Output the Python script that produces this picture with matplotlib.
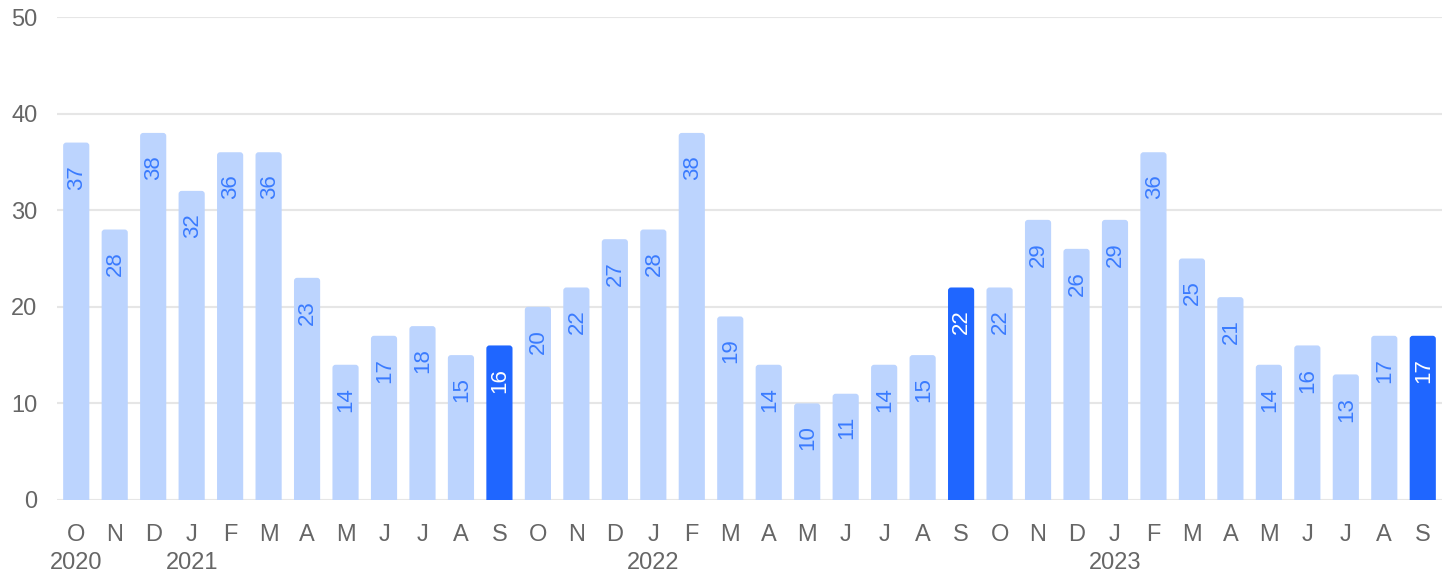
import numpy as np
import matplotlib.pyplot as plt
from matplotlib.patches import FancyBboxPatch

plt.rcParams['font.family'] = ['Liberation Sans', 'DejaVu Sans']

# datos: conteo mensual, oct 2020 - sep 2023
meses = ['O', 'N', 'D', 'J', 'F', 'M', 'A', 'M', 'J', 'J', 'A', 'S'] * 3
valores = [37, 28, 38, 32, 36, 36, 23, 14, 17, 18, 15, 16,
           20, 22, 27, 28, 38, 19, 14, 10, 11, 14, 15, 22,
           22, 29, 26, 29, 36, 25, 21, 14, 16, 13, 17, 17]
destacados = [11, 23, 35]
anios = {0: '2020', 3: '2021', 15: '2022', 27: '2023'}

claro = '#bcd4fe'
oscuro = '#1f66ff'
texto_azul = '#3a7bff'
gris = '#666666'

fig = plt.figure(figsize=(14.49, 5.75), dpi=100)
ax = fig.add_axes([57 / 1449, 75 / 575, (1442 - 57) / 1449, (500 - 17) / 575])

ancho = 0.68
x = np.arange(len(valores))
for i, v in enumerate(valores):
    c = oscuro if i in destacados else claro
    # barra con esquinas redondeadas, la parte de abajo queda recortada por ylim
    p = FancyBboxPatch((i - ancho / 2, -2), ancho, v + 2,
                       boxstyle='round,pad=0,rounding_size=0.08',
                       mutation_aspect=4.0, linewidth=0, facecolor=c, zorder=2)
    ax.add_patch(p)

for i, v in enumerate(valores):
    c = 'white' if i in destacados else texto_azul
    ax.annotate(str(v), (i, v), xytext=(0.5, -16), textcoords='offset points',
                rotation=90, ha='center', va='top', color=c, fontsize=16,
                zorder=3)

ax.set_xlim(-0.5, len(valores) - 0.5)
ax.set_ylim(0, 50)
ax.set_yticks([0, 10, 20, 30, 40, 50])
ax.yaxis.grid(True, color='#e6e6e6', linewidth=1.5, zorder=0)
ax.set_axisbelow(True)
for s in ax.spines.values():
    s.set_visible(False)
ax.tick_params(axis='y', length=0, pad=14, labelsize=17, labelcolor=gris)
ax.set_xticks([])

for i, m in enumerate(meses):
    ax.text(i, -3.6, m, ha='center', va='center', fontsize=17, color=gris)
    if i in anios:
        ax.text(i, -6.5, anios[i], ha='center', va='center', fontsize=17,
                color=gris)

fig.savefig('out.png', dpi=100)
